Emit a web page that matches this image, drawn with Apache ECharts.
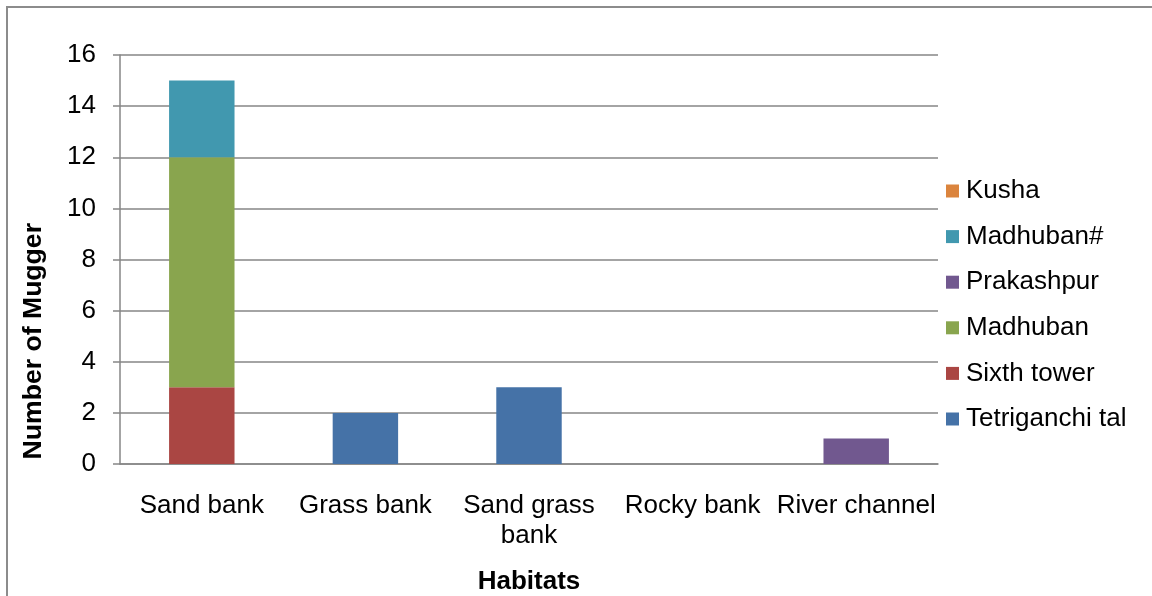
<!DOCTYPE html>
<html>
<head>
<meta charset="utf-8">
<script src="https://cdn.jsdelivr.net/npm/echarts@6/dist/echarts.min.js"></script>
<style>
  html, body { margin: 0; padding: 0; background: #fff; }
  #frame { position: absolute; left: 6px; top: 6px; width: 1200px; height: 700px;
           border-left: 2px solid #8c8c8c; border-top: 2px solid #8c8c8c; }
  #main { position: absolute; left: 0; top: 0; width: 1152px; height: 596px; }
</style>
</head>
<body>
<div id="frame"></div>
<div id="main"></div>
<script>
// habitats on the x axis
var habitats = ['Sand bank', 'Grass bank', 'Sand grass bank', 'Rocky bank', 'River channel'];

// mugger counts per site, stacked bottom to top
var tetriganchiTal = [0, 2, 3, 0, 0];
var sixthTower = [3, 0, 0, 0, 0];
var madhuban = [9, 0, 0, 0, 0];
var prakashpur = [0, 0, 0, 0, 1];
var madhubanHash = [3, 0, 0, 0, 0];
var kusha = [0, 0, 0, 0, 0];

var legendOrder = ['Kusha', 'Madhuban#', 'Prakashpur', 'Madhuban', 'Sixth tower', 'Tetriganchi tal'];

var chartDom = document.getElementById('main');
var myChart = echarts.init(chartDom);

function bar(name, data, color) {
  return {
    name: name,
    type: 'bar',
    stack: 'all',
    data: data,
    barCategoryGap: '60%',
    itemStyle: { color: color },
    emphasis: { disabled: true }
  };
}

var font = 'Liberation Sans, Arial, sans-serif';
var gray = '#868686';

var option = {
  animation: false,
  textStyle: { fontFamily: font },
  grid: { left: 120, right: 214, top: 55, bottom: 132, outerBoundsMode: 'none' },
  legend: {
    orient: 'vertical',
    left: 946,
    top: 178,
    padding: 0,
    data: legendOrder,
    icon: 'rect',
    itemWidth: 13,
    itemHeight: 13,
    itemGap: 19.6,
    textStyle: { fontFamily: font, fontSize: 26, color: '#000', padding: [0, 0, 0, 2] }
  },
  // y axis title sits low beside the axis, as in the original
  graphic: [{
    type: 'text',
    left: 20,
    top: 223,
    rotation: Math.PI / 2,
    style: {
      text: 'Number of Mugger',
      font: 'bold 26.6px ' + font,
      fill: '#000'
    }
  }],
  xAxis: {
    type: 'category',
    data: habitats,
    name: 'Habitats',
    nameLocation: 'middle',
    nameGap: 105,
    nameTextStyle: { fontFamily: font, fontSize: 26, fontWeight: 'bold', color: '#000' },
    axisLine: { lineStyle: { color: gray, width: 1.5 } },
    axisTick: { length: 8, lineStyle: { color: gray, width: 1.5 } },
    axisLabel: {
      fontFamily: font, fontSize: 26, color: '#000', margin: 27, lineHeight: 30,
      interval: 0,
      formatter: function (v) { return v === 'Sand grass bank' ? 'Sand grass\nbank' : v; }
    }
  },
  yAxis: {
    type: 'value',
    min: 0,
    max: 16,
    interval: 2,
    axisLine: { show: true, lineStyle: { color: gray, width: 1.5 } },
    axisTick: { show: true, length: 7, lineStyle: { color: gray, width: 1.5 } },
    axisLabel: { fontFamily: font, fontSize: 26, color: '#000', margin: 24 },
    splitLine: { lineStyle: { color: gray, width: 1.5 } }
  },
  series: [
    bar('Tetriganchi tal', tetriganchiTal, '#4572A7'),
    bar('Sixth tower', sixthTower, '#AA4643'),
    bar('Madhuban', madhuban, '#89A54E'),
    bar('Prakashpur', prakashpur, '#71588F'),
    bar('Madhuban#', madhubanHash, '#4198AF'),
    bar('Kusha', kusha, '#DB843D')
  ]
};

option && myChart.setOption(option);
</script>
</body>
</html>
